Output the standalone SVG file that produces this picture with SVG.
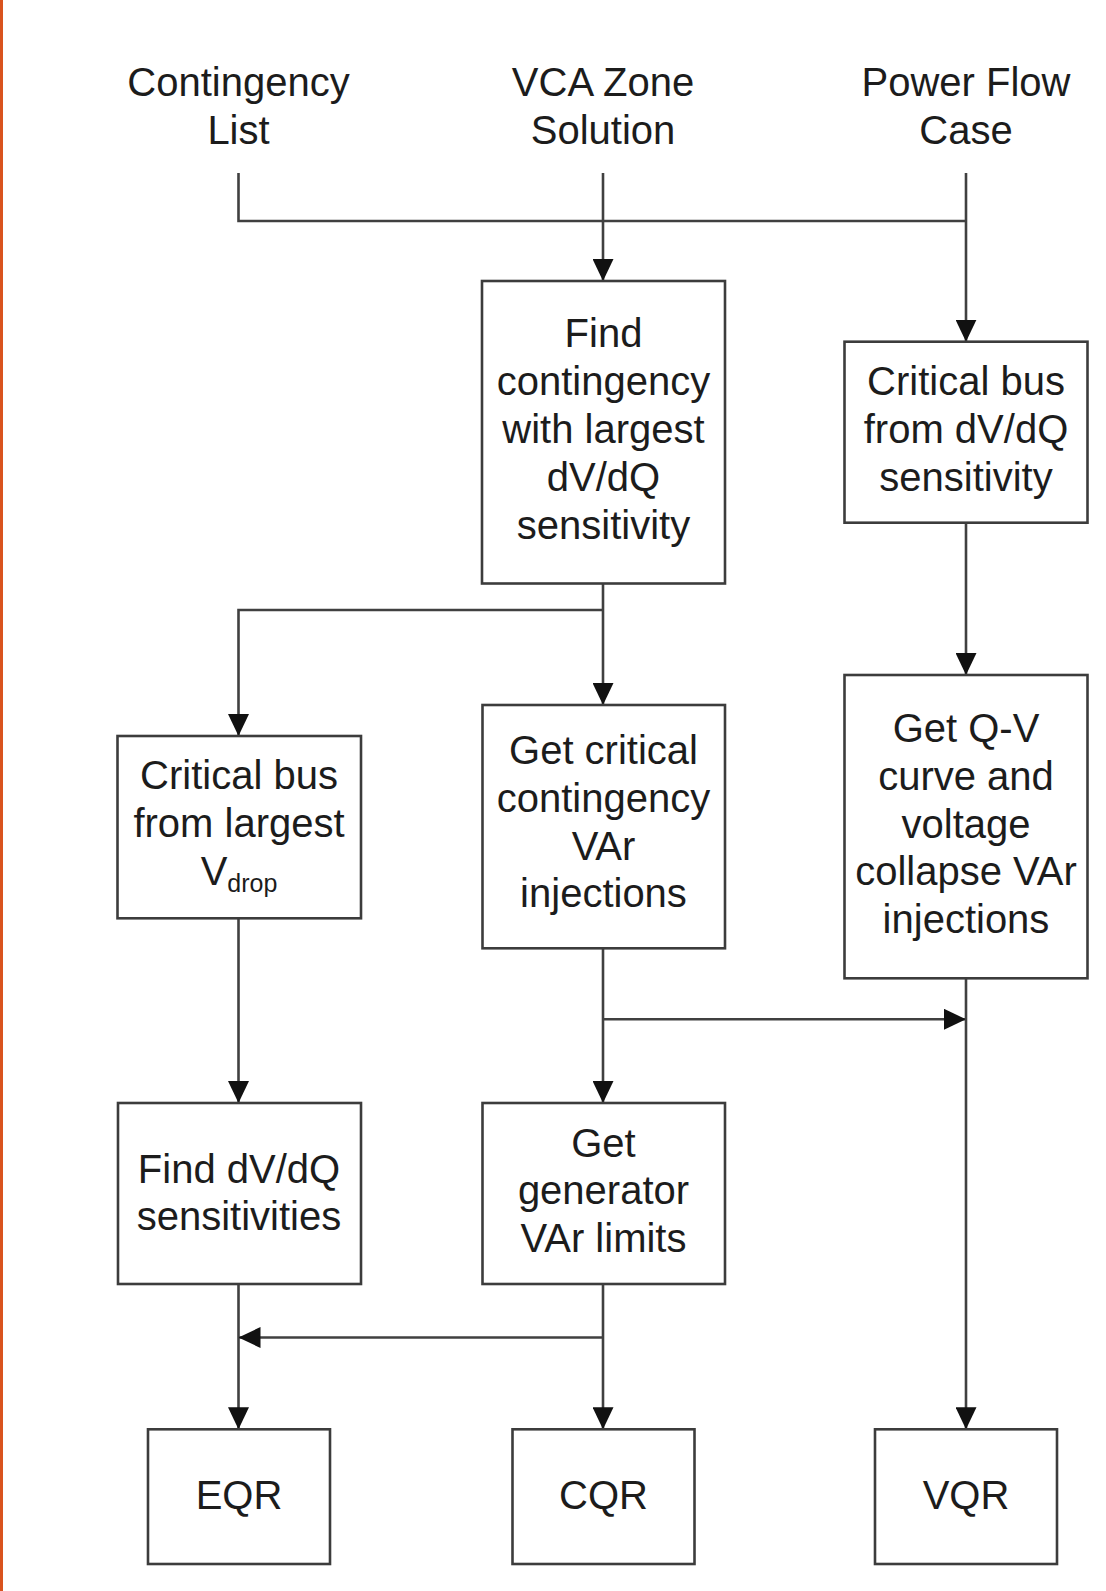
<svg xmlns="http://www.w3.org/2000/svg" width="1106" height="1591" viewBox="0 0 1106 1591">
<style>
.box{fill:#ffffff;stroke:#3c3c3c;stroke-width:2.6}
.t{font-family:"Liberation Sans",Arial,sans-serif;font-size:40px;fill:#1c1c1c;text-anchor:middle}
.sub{font-size:25px}
.c{fill:none;stroke:#404040;stroke-width:2.6}
</style>
<defs>
<marker id="arr" viewBox="0 0 22 21" refX="22" refY="10.5" markerWidth="22" markerHeight="21" markerUnits="userSpaceOnUse" orient="auto">
<path d="M0,0 L22,10.5 L0,21 z" fill="#111"/>
</marker>
</defs>
<rect x="0" y="0" width="3" height="1591" fill="#d9531e"/>
<rect x="3" y="0" width="1103" height="1591" fill="#ffffff"/>

<g id="input-contingency">
<text class="t" x="238.5" y="96">Contingency</text>
<text class="t" x="238.5" y="144">List</text>
</g>
<g id="input-vca">
<text class="t" x="603" y="96">VCA Zone</text>
<text class="t" x="603" y="144">Solution</text>
</g>
<g id="input-powerflow">
<text class="t" x="966" y="96">Power Flow</text>
<text class="t" x="966" y="144">Case</text>
</g>

<g id="connectors">
<path class="c" d="M238.5,173 V221 H966"/>
<path class="c" d="M603,173 V281" marker-end="url(#arr)"/>
<path class="c" d="M966,173 V341.7" marker-end="url(#arr)"/>
<path class="c" d="M603,583.5 V705" marker-end="url(#arr)"/>
<path class="c" d="M603,610 H238.5 V736" marker-end="url(#arr)"/>
<path class="c" d="M966,522.7 V675" marker-end="url(#arr)"/>
<path class="c" d="M238.5,918.3 V1103" marker-end="url(#arr)"/>
<path class="c" d="M603,948.3 V1103" marker-end="url(#arr)"/>
<path class="c" d="M603,1019.3 H966" marker-end="url(#arr)"/>
<path class="c" d="M966,978.3 V1429.3" marker-end="url(#arr)"/>
<path class="c" d="M238.5,1284 V1429.3" marker-end="url(#arr)"/>
<path class="c" d="M603,1284 V1429.3" marker-end="url(#arr)"/>
<path class="c" d="M603,1337.5 H238.5" marker-end="url(#arr)"/>
</g>

<g id="find-contingency">
<rect class="box" x="482" y="281" width="243" height="302.5"/>
<text class="t" x="603.5" y="347">Find</text>
<text class="t" x="603.5" y="395">contingency</text>
<text class="t" x="603.5" y="443">with largest</text>
<text class="t" x="603.5" y="491">dV/dQ</text>
<text class="t" x="603.5" y="539">sensitivity</text>
</g>

<g id="critical-bus-dvdq">
<rect class="box" x="844.5" y="341.7" width="243" height="181"/>
<text class="t" x="966" y="395">Critical bus</text>
<text class="t" x="966" y="443">from dV/dQ</text>
<text class="t" x="966" y="491">sensitivity</text>
</g>

<g id="critical-bus-vdrop">
<rect class="box" x="117.5" y="736" width="243.5" height="182.3"/>
<text class="t" x="239" y="789">Critical bus</text>
<text class="t" x="239" y="837">from largest</text>
<text class="t" x="239" y="885">V<tspan class="sub" dy="7">drop</tspan></text>
</g>

<g id="get-critical">
<rect class="box" x="482.5" y="705" width="242.5" height="243.3"/>
<text class="t" x="603.5" y="764">Get critical</text>
<text class="t" x="603.5" y="812">contingency</text>
<text class="t" x="603.5" y="860">VAr</text>
<text class="t" x="603.5" y="907">injections</text>
</g>

<g id="get-qv">
<rect class="box" x="844.5" y="675" width="243" height="303.3"/>
<text class="t" x="966" y="742">Get Q-V</text>
<text class="t" x="966" y="790">curve and</text>
<text class="t" x="966" y="838">voltage</text>
<text class="t" x="966" y="885">collapse VAr</text>
<text class="t" x="966" y="933">injections</text>
</g>

<g id="find-sensitivities">
<rect class="box" x="118" y="1103" width="243" height="181"/>
<text class="t" x="239" y="1183">Find dV/dQ</text>
<text class="t" x="239" y="1230">sensitivities</text>
</g>

<g id="get-generator">
<rect class="box" x="482.5" y="1103" width="242.5" height="181"/>
<text class="t" x="603.5" y="1157">Get</text>
<text class="t" x="603.5" y="1204">generator</text>
<text class="t" x="603.5" y="1252">VAr limits</text>
</g>

<g id="eqr">
<rect class="box" x="148" y="1429.3" width="182" height="134.7"/>
<text class="t" x="239" y="1509">EQR</text>
</g>
<g id="cqr">
<rect class="box" x="512.5" y="1429.3" width="182" height="134.7"/>
<text class="t" x="603.5" y="1509">CQR</text>
</g>
<g id="vqr">
<rect class="box" x="875" y="1429.3" width="182" height="134.7"/>
<text class="t" x="966" y="1509">VQR</text>
</g>
</svg>
